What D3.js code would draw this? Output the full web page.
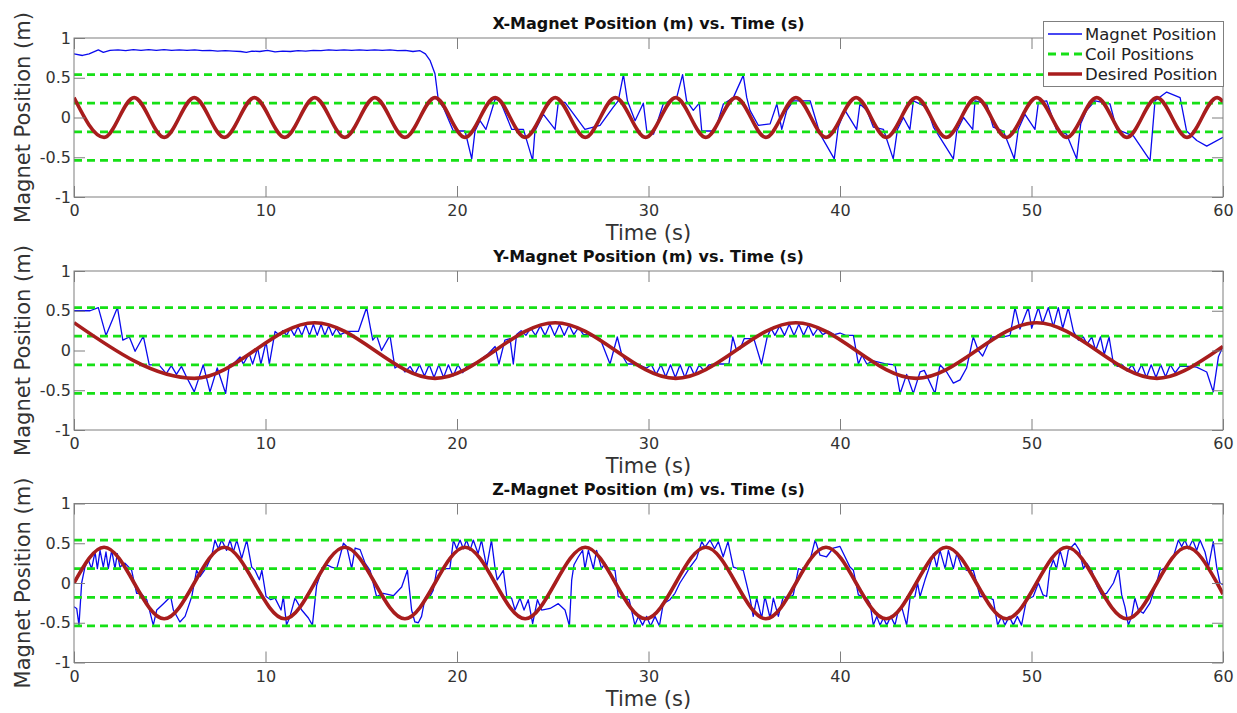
<!DOCTYPE html>
<html>
<head>
<meta charset="utf-8">
<script src="https://cdn.jsdelivr.net/npm/d3@7"></script>
<style>
body { margin: 0; background: #fff; }
text { font-family: "DejaVu Sans", sans-serif; }
</style>
</head>
<body>
<svg id="chart" width="1237" height="713"></svg>
<script>
const xTicks = [0, 10, 20, 30, 40, 50, 60]
const yTicks = [-1, -0.5, 0, 0.5, 1]
const coilPositions = [-0.54, -0.18, 0.18, 0.54]
const titles = ["X-Magnet Position (m) vs. Time (s)", "Y-Magnet Position (m) vs. Time (s)", "Z-Magnet Position (m) vs. Time (s)"]
const legendLabels = ["Magnet Position", "Coil Positions", "Desired Position"]

// [time, position]
const magnetX = [[0,0.80],[0.44,0.78],[0.79,0.80],[1.27,0.85],[1.53,0.82],[1.88,0.845],
	[2.3,0.85],[2.7,0.84],[3.1,0.855],[3.5,0.845],[3.9,0.855],[4.3,0.845],[4.7,0.855],[5.1,0.845],[5.5,0.85],[5.9,0.845],
	[6.3,0.85],[6.7,0.84],[7.1,0.845],[7.5,0.835],[7.9,0.84],[8.3,0.835],[8.7,0.83],[9.0,0.82],[9.3,0.835],[9.7,0.83],
	[10.1,0.845],[10.5,0.825],[10.9,0.835],[11.3,0.83],[11.7,0.84],[12.1,0.835],[12.5,0.845],[12.9,0.84],[13.3,0.85],
	[13.7,0.845],[14.1,0.85],[14.5,0.845],[14.9,0.85],[15.3,0.845],[15.7,0.85],[16.1,0.845],[16.5,0.85],[16.9,0.84],
	[17.3,0.845],[17.7,0.83],[18.07,0.84],[18.35,0.8],[18.59,0.72],[18.85,0.55],[19.03,0.21],[19.3,0.12],[19.81,-0.17],
	[20.42,-0.17],[20.77,-0.52],[20.94,-0.17],[21.2,-0.04],[21.51,-0.15],[21.99,0.23],[22.25,0.21],[22.86,-0.15],
	[23.47,-0.15],[23.95,-0.54],[24.07,-0.17],[24.51,0.04],[25.12,-0.15],[25.29,0.19],[25.64,0.19],[26.16,0.02],
	[26.68,-0.15],[27.47,-0.1],[28.16,0.13],[28.42,0.21],[28.69,0.54],[28.9,0.21],[29.3,-0.04],[29.73,0.18],[29.91,-0.17],
	[30.26,-0.21],[30.77,0.17],[31.47,0.25],[31.78,0.54],[31.99,0.21],[32.34,0.09],[32.65,0.18],[32.78,-0.17],[33.47,-0.17],
	[33.91,0.17],[34.43,0.25],[34.95,0.53],[35.13,0.25],[35.3,0.09],[35.74,-0.1],[36.35,-0.08],[36.7,0.17],[36.96,-0.15],
	[37.22,0.09],[37.56,0.21],[38.44,0.21],[38.96,-0.21],[39.7,-0.52],[39.91,-0.12],[40.26,0.09],[40.87,-0.15],[41.04,0.17],
	[41.4,0.09],[41.74,-0.12],[42.27,-0.15],[42.78,-0.52],[43.0,-0.15],[43.31,0.0],[43.65,-0.15],[43.83,0.21],[44.53,0.13],
	[44.88,-0.12],[45.92,-0.52],[46.1,-0.17],[46.45,0.0],[46.93,-0.15],[47.05,0.21],[47.66,0.17],[48.0,-0.12],[48.53,-0.17],
	[49.1,-0.52],[49.31,-0.15],[49.66,0.04],[50.18,-0.15],[50.36,0.19],[50.79,0.21],[51.3,-0.15],[51.83,-0.21],[52.36,-0.52],
	[52.57,-0.08],[52.88,0.09],[53.32,0.21],[54.1,0.17],[54.45,-0.15],[55.32,-0.23],[56.19,-0.54],[56.45,0.21],[57.06,0.32],
	[57.76,0.25],[58.1,-0.17],[58.63,-0.29],[59.15,-0.36],[60,-0.25]]

const magnetY = [[0,0.5],[0.84,0.5],[1.27,0.54],[1.67,0.19],[2.27,0.54],[2.55,0.13],[2.89,0.17],[3.19,-0.01],[3.62,0.18],
	[3.93,-0.18],[4.31,-0.18],[4.47,-0.19],[4.82,-0.29],[5.08,-0.19],[5.35,-0.3],[5.61,-0.2],[5.87,-0.33],[6.28,-0.52],
	[6.75,-0.18],[7.1,-0.52],[7.48,-0.22],[7.92,-0.54],[8.11,-0.18],[8.32,-0.17],[8.67,-0.08],[8.84,-0.17],[9.15,-0.04],
	[9.33,-0.17],[9.59,0.03],[9.76,-0.17],[10.03,0.11],[10.2,-0.17],[10.5,0.24],[10.75,0.19],[10.9,0.25],[11.1,0.19],
	[11.3,0.28],[11.5,0.19],[11.7,0.3],[11.9,0.19],[12.1,0.32],[12.3,0.19],[12.5,0.33],[12.7,0.19],[12.9,0.33],[13.1,0.19],
	[13.3,0.31],[13.5,0.19],[13.7,0.28],[13.9,0.2],[14.28,0.24],[14.85,0.24],[15.28,0.54],[15.6,0.13],[15.8,0.19],[16.06,0.0],
	[16.5,0.19],[16.76,-0.22],[17.02,-0.18],[17.28,-0.27],[17.55,-0.2],[17.8,-0.3],[18.05,-0.18],[18.3,-0.32],[18.55,-0.18],
	[18.8,-0.34],[19.05,-0.18],[19.3,-0.34],[19.55,-0.18],[19.8,-0.32],[20.05,-0.18],[20.3,-0.28],[20.5,-0.2],[21.03,-0.15],
	[21.63,-0.04],[21.99,0.05],[22.19,-0.17],[22.5,0.13],[22.77,0.15],[22.94,-0.17],[23.11,0.2],[23.35,0.25],[23.6,0.19],
	[23.85,0.28],[24.1,0.19],[24.35,0.31],[24.6,0.19],[24.85,0.33],[25.1,0.19],[25.35,0.33],[25.6,0.19],[25.85,0.32],
	[26.1,0.2],[26.35,0.29],[26.6,0.2],[26.77,0.2],[27.47,0.15],[27.99,-0.17],[28.37,0.17],[28.6,-0.05],[28.89,-0.17],
	[29.4,-0.17],[29.9,-0.22],[30.15,-0.18],[30.4,-0.3],[30.65,-0.18],[30.9,-0.33],[31.15,-0.18],[31.4,-0.34],[31.65,-0.18],
	[31.9,-0.34],[32.15,-0.18],[32.4,-0.31],[32.65,-0.18],[32.9,-0.26],[33.15,-0.18],[33.7,-0.17],[34.2,-0.17],[34.4,0.17],
	[34.6,0.0],[34.78,0.02],[35.0,0.15],[35.5,0.15],[35.9,-0.17],[36.2,0.17],[36.4,0.28],[36.6,0.19],[36.85,0.31],[37.1,0.19],
	[37.35,0.33],[37.6,0.19],[37.85,0.33],[38.1,0.19],[38.35,0.32],[38.6,0.19],[38.85,0.28],[39.1,0.2],[39.4,0.24],[39.7,0.2],
	[40.0,0.22],[40.3,0.19],[40.7,0.19],[40.96,-0.17],[41.15,-0.06],[41.4,-0.17],[41.74,-0.13],[42.44,-0.17],[42.87,-0.18],
	[43.14,-0.54],[43.48,-0.3],[43.83,-0.54],[44.18,-0.27],[44.4,-0.25],[44.96,-0.54],[45.22,-0.18],[45.57,-0.27],[45.92,-0.41],
	[46.27,-0.37],[46.61,-0.22],[46.96,0.17],[47.22,0.0],[47.45,-0.07],[47.9,0.17],[48.53,0.17],[48.88,0.19],[49.14,0.54],
	[49.4,0.27],[49.83,0.54],[50.01,0.28],[50.36,0.54],[50.58,0.34],[50.88,0.54],[51.14,0.3],[51.4,0.54],[51.63,0.28],
	[51.92,0.54],[52.19,0.24],[52.45,0.13],[52.71,0.17],[52.9,0.08],[53.15,0.17],[53.35,0.0],[53.6,0.17],[53.8,-0.05],
	[54.05,0.17],[54.28,-0.17],[54.5,-0.2],[54.75,-0.18],[55.0,-0.26],[55.25,-0.18],[55.5,-0.3],[55.75,-0.18],[56.0,-0.34],
	[56.25,-0.18],[56.5,-0.34],[56.75,-0.18],[57.0,-0.33],[57.25,-0.18],[57.5,-0.28],[57.75,-0.2],[58.28,-0.2],[58.62,-0.21],
	[59.15,-0.27],[59.49,-0.52],[59.76,-0.08],[60,0.05]]

const magnetZ = [[0,-0.3],[0.14,-0.32],[0.26,-0.53],[0.4,0.0],[0.57,0.2],[0.75,0.29],[0.92,0.18],[1.1,0.39],[1.22,0.18],
	[1.36,0.41],[1.53,0.2],[1.67,0.39],[1.79,0.18],[1.97,0.41],[2.14,0.18],[2.26,0.37],[2.4,0.2],[2.66,0.25],[3.01,0.16],
	[3.27,-0.13],[3.5,-0.13],[3.8,-0.21],[4.14,-0.53],[4.32,-0.34],[4.67,-0.26],[5.05,-0.17],[5.19,-0.34],[5.53,-0.49],
	[5.8,-0.42],[6.15,-0.17],[6.4,0.16],[6.58,0.08],[6.93,0.2],[7.2,0.35],[7.36,0.54],[7.54,0.43],[7.71,0.54],[7.97,0.41],
	[8.15,0.54],[8.32,0.39],[8.5,0.54],[8.76,0.31],[9.02,0.54],[9.28,0.2],[9.45,0.16],[9.68,0.04],[9.81,0.16],[10.03,-0.17],
	[10.27,-0.21],[10.5,-0.19],[10.81,-0.34],[10.93,-0.17],[11.1,-0.53],[11.28,-0.42],[11.54,-0.19],[11.89,-0.34],
	[12.24,-0.44],[12.45,-0.53],[12.67,-0.03],[12.94,0.16],[13.2,0.23],[13.45,0.2],[13.72,0.18],[14.07,0.5],[14.24,0.46],
	[14.5,0.18],[14.68,0.44],[14.94,0.42],[15.2,0.25],[15.46,0.16],[15.8,-0.17],[16.15,-0.13],[16.68,-0.16],[17.11,-0.05],
	[17.41,0.16],[17.63,-0.34],[17.8,-0.49],[17.98,-0.5],[18.15,-0.42],[18.33,-0.19],[18.59,-0.17],[18.76,-0.09],[18.94,0.16],
	[19.3,0.18],[19.63,0.18],[19.81,0.54],[19.98,0.43],[20.16,0.54],[20.33,0.43],[20.5,0.54],[20.68,0.41],[20.85,0.54],
	[21.1,0.37],[21.28,0.54],[21.55,0.2],[21.8,0.54],[21.98,0.2],[22.1,0.04],[22.42,0.16],[22.6,-0.17],[22.85,-0.19],
	[23.03,-0.34],[23.29,-0.19],[23.5,-0.34],[23.72,-0.21],[23.95,-0.51],[24.2,-0.21],[24.42,-0.34],[24.86,-0.32],
	[25.29,-0.26],[25.64,-0.34],[25.87,-0.54],[25.99,0.04],[26.11,0.23],[26.34,0.33],[26.56,0.41],[26.68,0.18],[26.86,0.41],
	[27.12,0.18],[27.29,0.41],[27.55,0.18],[27.72,0.25],[27.9,0.18],[28.25,0.16],[28.42,-0.17],[28.7,-0.19],[28.99,-0.21],
	[29.29,-0.53],[29.47,-0.42],[29.69,-0.53],[29.9,-0.42],[30.11,-0.54],[30.34,-0.42],[30.57,-0.54],[30.77,-0.26],
	[31.12,-0.21],[31.38,-0.13],[31.64,0.0],[32.17,0.2],[32.51,0.31],[32.78,0.52],[32.95,0.45],[33.21,0.54],[33.45,0.43],
	[33.65,0.52],[33.9,0.33],[34.15,0.52],[34.43,0.2],[34.95,0.16],[35.3,-0.19],[35.47,-0.42],[35.65,-0.19],[35.91,-0.44],
	[36.08,-0.17],[36.35,-0.44],[36.52,-0.19],[36.78,-0.42],[37.04,-0.17],[37.3,-0.19],[37.56,-0.15],[37.83,0.18],
	[38.09,0.16],[38.44,0.29],[38.7,0.54],[38.96,0.35],[39.3,0.33],[39.65,0.44],[40.0,0.46],[40.26,0.33],[40.52,0.2],
	[40.7,0.16],[40.96,-0.15],[41.4,-0.19],[41.57,-0.26],[41.74,-0.53],[41.92,-0.42],[42.09,-0.53],[42.27,-0.44],[42.44,-0.53],
	[42.65,-0.42],[42.87,-0.53],[43.05,-0.34],[43.22,-0.3],[43.48,-0.53],[43.66,-0.19],[43.91,-0.17],[44.05,0.0],[44.18,-0.17],
	[44.44,0.04],[44.61,0.16],[44.88,0.37],[45.05,0.2],[45.22,0.41],[45.49,0.18],[45.66,0.41],[45.92,0.18],[46.1,0.37],
	[46.36,0.2],[46.61,0.16],[46.96,0.16],[47.14,0.0],[47.31,-0.17],[47.66,-0.17],[48.0,-0.21],[48.23,-0.53],[48.44,-0.42],
	[48.61,-0.53],[48.84,-0.42],[49.05,-0.53],[49.26,-0.42],[49.48,-0.53],[49.74,-0.21],[50.09,-0.17],[50.36,0.0],[50.6,-0.15],
	[50.79,-0.17],[50.95,0.16],[51.14,0.29],[51.31,0.18],[51.49,0.41],[51.75,0.18],[51.92,0.41],[52.27,0.5],[52.5,0.41],
	[52.71,0.18],[52.88,0.25],[53.14,0.16],[53.4,-0.03],[53.66,-0.15],[53.92,-0.13],[54.28,0.0],[54.54,0.18],[54.71,-0.15],
	[54.88,-0.3],[55.06,-0.53],[55.23,-0.42],[55.4,-0.19],[55.58,-0.34],[55.84,-0.38],[56.19,-0.25],[56.53,0.0],[56.71,0.16],
	[57.06,0.2],[57.41,0.33],[57.67,0.54],[57.84,0.46],[58.01,0.54],[58.19,0.43],[58.42,0.54],[58.63,0.41],[58.8,0.54],
	[59.06,0.39],[59.24,0.2],[59.49,0.52],[59.67,0.2],[59.84,0.0],[60,-0.02]]

// desired trajectories: turning points (plus start / end)
const desiredX = [[0,0.25],[1.57,-0.25],[3.14,0.25],[4.71,-0.25],[6.28,0.25],[7.85,-0.25],[9.42,0.25],[11.0,-0.25],
	[12.57,0.25],[14.14,-0.25],[15.71,0.25],[17.28,-0.25],[18.85,0.25],[20.42,-0.25],[21.99,0.25],[23.56,-0.25],[25.13,0.25],
	[26.7,-0.25],[28.27,0.25],[29.85,-0.25],[31.42,0.25],[32.99,-0.25],[34.56,0.25],[36.13,-0.25],[37.7,0.25],[39.27,-0.25],
	[40.84,0.25],[42.41,-0.25],[43.98,0.25],[45.55,-0.25],[47.12,0.25],[48.69,-0.25],[50.27,0.25],[51.84,-0.25],[53.41,0.25],
	[54.98,-0.25],[56.55,0.25],[58.12,-0.25],[59.69,0.25],[60,0.2]]
const desiredY = [[0,0.35],[6.28,-0.35],[12.57,0.35],[18.85,-0.35],[25.13,0.35],[31.42,-0.35],[37.7,0.35],[43.98,-0.35],
	[50.27,0.35],[56.55,-0.35],[59.69,0],[60,0.05]]
const desiredZ = [[0,0],[1.57,0.45],[4.71,-0.45],[7.85,0.45],[11.0,-0.45],[14.14,0.45],[17.28,-0.45],[20.42,0.45],
	[23.56,-0.45],[26.7,0.45],[29.85,-0.45],[32.99,0.45],[36.13,-0.45],[39.27,0.45],[42.41,-0.45],[45.55,0.45],[48.69,-0.45],
	[51.84,0.45],[54.98,-0.45],[58.12,0.45],[59.69,0],[60,-0.14]]

const panels = [
	{ title: titles[0], magnet: magnetX, desired: desiredX },
	{ title: titles[1], magnet: magnetY, desired: desiredY },
	{ title: titles[2], magnet: magnetZ, desired: desiredZ }
]

const blue = "#0a0aee"
const green = "#16e016"
const red = "#a81d1d"
const axisGray = "#7f7f7f"
const textGray = "#333"

const left = 74
const right = 1223
const panelHeight = 159
const panelTops = [38, 271, 503.5]

const svg = d3.select("#chart")
const x = d3.scaleLinear().domain([0, 60]).range([left, right])
const noLabel = () => ""
const fmt = d => String(d)

const styleAxis = g => {
	g.select(".domain").remove()
	g.selectAll(".tick line").attr("stroke", axisGray)
	g.selectAll(".tick text").attr("fill", textGray).style("font-size", "16px")
}

panels.forEach((p, i) => {
	const top = panelTops[i]
	const bottom = top + panelHeight
	const y = d3.scaleLinear().domain([-1, 1]).range([bottom, top])
	const g = svg.append("g")

	g.append("clipPath").attr("id", "clip" + i)
		.append("rect").attr("x", left).attr("y", top).attr("width", right - left).attr("height", panelHeight)

	const line = d3.line().x(d => x(d[0])).y(d => y(d[1]))
	const plot = g.append("g").attr("clip-path", `url(#clip${i})`)

	plot.append("path").datum(p.magnet).attr("d", line)
		.attr("fill", "none").attr("stroke", blue).attr("stroke-width", 1.3).attr("stroke-linejoin", "round")

	coilPositions.forEach(c => {
		plot.append("path").datum([[0, c], [60, c]]).attr("d", line)
			.attr("fill", "none").attr("stroke", green).attr("stroke-width", 2.8).attr("stroke-dasharray", "8,5")
	})

	plot.append("path").datum(p.desired).attr("d", line.curve(d3.curveMonotoneX))
		.attr("fill", "none").attr("stroke", red).attr("stroke-width", 3.6)

	g.append("g").attr("transform", `translate(0,${bottom})`)
		.call(d3.axisBottom(x).tickValues(xTicks).tickSize(-11).tickSizeOuter(0).tickPadding(8))
		.call(styleAxis)
	g.append("g").attr("transform", `translate(0,${top})`)
		.call(d3.axisTop(x).tickValues(xTicks).tickFormat(noLabel).tickSize(-11).tickSizeOuter(0))
		.call(styleAxis)
	g.append("g").attr("transform", `translate(${left},0)`)
		.call(d3.axisLeft(y).tickValues(yTicks).tickFormat(fmt).tickSize(-11).tickSizeOuter(0).tickPadding(3))
		.call(styleAxis)
	g.append("g").attr("transform", `translate(${right},0)`)
		.call(d3.axisRight(y).tickValues(yTicks).tickFormat(noLabel).tickSize(-11).tickSizeOuter(0))
		.call(styleAxis)

	g.append("rect").attr("x", left).attr("y", top).attr("width", right - left).attr("height", panelHeight)
		.attr("fill", "none").attr("stroke", axisGray).attr("stroke-width", 1)

	g.append("text").attr("x", (left + right) / 2).attr("y", top - 9).attr("text-anchor", "middle")
		.style("font-size", "16px").style("font-weight", "bold").attr("fill", "#111").text(p.title)

	g.append("text").attr("x", (left + right) / 2).attr("y", bottom + 43).attr("text-anchor", "middle")
		.style("font-size", "21px").attr("fill", textGray).text("Time (s)")

	g.append("text").attr("transform", `translate(30,${(top + bottom) / 2}) rotate(-90)`).attr("text-anchor", "middle")
		.style("font-size", "21px").attr("fill", textGray).text("Magnet Position (m)")
})

// legend in the first panel
const legend = svg.append("g")
legend.append("rect").attr("x", 1043.5).attr("y", 21.5).attr("width", 180).attr("height", 65)
	.attr("fill", "#fff").attr("stroke", axisGray)
const legendStyles = [
	{ stroke: blue, width: 1.3, dash: null },
	{ stroke: green, width: 2.8, dash: "8,5" },
	{ stroke: red, width: 3.6, dash: null }
]
legendLabels.forEach((label, i) => {
	const cy = 34 + i * 20
	legend.append("line").attr("x1", 1048).attr("x2", 1082).attr("y1", cy).attr("y2", cy)
		.attr("stroke", legendStyles[i].stroke).attr("stroke-width", legendStyles[i].width)
		.attr("stroke-dasharray", legendStyles[i].dash)
	legend.append("text").attr("x", 1085).attr("y", cy).attr("dy", "0.36em")
		.style("font-size", "16.5px").attr("fill", "#222").text(label)
})
</script>
</body>
</html>
